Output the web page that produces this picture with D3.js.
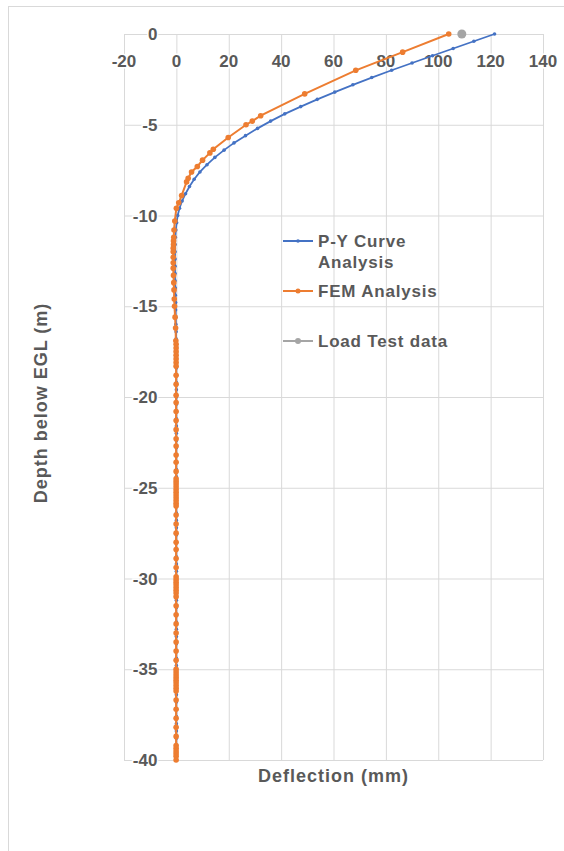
<!DOCTYPE html>
<html>
<head>
<meta charset="utf-8">
<script src="https://cdn.jsdelivr.net/npm/d3@7"></script>
<style>
  body { margin: 0; background: #fff; }
  svg text { font-family: "Liberation Sans", Arial, sans-serif; fill: #595959; }
</style>
</head>
<body>
<svg id="chart" width="564" height="851"></svg>
<script>
// P-Y curve analysis (depth in m, deflection in mm)
const pyDepth = [0, -0.4, -0.8, -1.2, -1.6, -2, -2.4, -2.8, -3.2, -3.6, -4, -4.4, -4.8, -5.2, -5.6, -6, -6.4, -6.8, -7.2, -7.6,
  -8, -8.4, -8.8, -9.2, -9.6, -10, -10.4, -10.8, -11.2, -11.6, -12, -12.4, -12.8, -13.2, -13.6, -14, -14.4, -14.8, -15.2, -15.6,
  -16, -16.4, -16.8, -17.2, -17.6, -18, -18.4, -18.8, -19.2, -19.6, -20, -20.4, -20.8, -21.2, -21.6, -22, -22.4, -22.8, -23.2, -23.6,
  -24, -24.4, -24.8, -25.2, -25.6, -26, -26.4, -26.8, -27.2, -27.6, -28, -28.4, -28.8, -29.2, -29.6, -30, -30.4, -30.8, -31.2, -31.6,
  -32, -32.4, -32.8, -33.2, -33.6, -34, -34.4, -34.8, -35.2, -35.6, -36, -36.4, -36.8, -37.2, -37.6, -38, -38.4, -38.8, -39.2, -39.6, -40];
const pyDefl = [121.5, 113.6, 105.7, 97.8, 90.0, 82.2, 74.6, 67.4, 60.5, 53.8, 47.5, 41.4, 36.0, 31.0, 26.4, 22.0, 18.2, 14.7, 11.7, 9.0,
  6.8, 5.0, 3.5, 2.2, 1.2, 0.5, 0.1, -0.2, -0.4, -0.5, -0.5, -0.5, -0.5, -0.5, -0.5, -0.4, -0.4, -0.3, -0.3, -0.2,
  -0.2, -0.1, -0.1, 0, 0, 0, 0, 0, 0, 0, 0, 0, 0, 0, 0, 0, 0, 0, 0, 0,
  0, 0, 0, 0, 0, 0, 0, 0, 0, 0, 0, 0, 0, 0, 0, 0, 0, 0, 0, 0,
  0, 0, 0, 0, 0, 0, 0, 0, 0, 0, 0, 0, 0, 0, 0, 0, 0, 0, 0, 0, 0];

// FEM analysis (node depths)
const femDepth = [0, -1, -2, -3.3, -4.5, -4.8, -5, -5.7, -6.35, -6.55, -6.95, -7.3, -7.6, -7.95, -8.15, -8.9, -9.3, -9.6,
  -10.3, -10.8, -11.2, -11.4, -11.6, -11.8, -12, -12.3, -12.6, -12.9, -13.3, -13.7, -14.1, -14.6, -15, -15.6, -16.2, -16.9,
  -17.1, -17.3, -17.5, -17.7, -17.9, -18.1, -18.3, -18.8, -19.3, -19.9, -20.3, -20.8, -21.3, -21.8, -22.3, -22.7, -23.2, -23.6, -24.1,
  -24.5, -24.65, -24.8, -24.95, -25.1, -25.25, -25.4, -25.55, -25.7, -25.85, -26, -26.5, -27, -27.5, -28, -28.4, -28.9, -29.4,
  -29.9, -30.05, -30.2, -30.35, -30.5, -30.65, -30.8, -31, -31.5, -32, -32.5, -33, -33.5, -34, -34.5,
  -35, -35.15, -35.3, -35.45, -35.6, -35.75, -35.9, -36.05, -36.2, -36.7, -37.2, -37.7, -38.2, -38.7,
  -39.2, -39.35, -39.5, -39.65, -39.8, -40];
const femDefl = [104.0, 86.4, 68.5, 49.0, 32.2, 29.0, 26.6, 19.8, 14.1, 12.8, 10.0, 8.0, 5.8, 4.5, 3.9, 2.0, 0.9, 0.0,
  -0.6, -0.9, -1.0, -1.1, -1.1, -1.2, -1.2, -1.2, -1.2, -1.2, -1.1, -1.0, -0.9, -0.8, -0.7, -0.5, -0.3, -0.2,
  -0.1, -0.1, -0.1, -0.1, -0.1, -0.1, -0.1, -0.1, -0.1, -0.1, -0.1, -0.1, -0.1, -0.1, -0.1, -0.1, -0.1, -0.1, -0.1,
  -0.1, -0.1, -0.1, -0.1, -0.1, -0.1, -0.1, -0.1, -0.1, -0.1, -0.1, -0.1, -0.1, -0.1, -0.1, -0.1, -0.1, -0.1,
  -0.1, -0.1, -0.1, -0.1, -0.1, -0.1, -0.1, -0.1, -0.1, -0.1, -0.1, -0.1, -0.1, -0.1, -0.1,
  -0.1, -0.1, -0.1, -0.1, -0.1, -0.1, -0.1, -0.1, -0.1, -0.1, -0.1, -0.1, -0.1, -0.1,
  -0.1, -0.1, -0.1, -0.1, -0.1, -0.1];

// Load test
const testDepth = [0];
const testDefl = [109];

const xTicks = [-20, 0, 20, 40, 60, 80, 100, 120, 140];
const yTicks = [0, -5, -10, -15, -20, -25, -30, -35, -40];

const svg = d3.select('#chart');

// chart border
svg.append('rect').attr('x', 8.5).attr('y', 6.5).attr('width', 600).attr('height', 900)
  .attr('fill', 'none').attr('stroke', '#d9d9d9');

const x = d3.scaleLinear().domain([-20, 140]).range([124, 543]);
const y = d3.scaleLinear().domain([-40, 0]).range([760, 34]);

// gridlines
svg.append('g').selectAll('line').data(xTicks).enter().append('line')
  .attr('x1', d => x(d) + 0.5).attr('x2', d => x(d) + 0.5)
  .attr('y1', y(0)).attr('y2', y(-40))
  .attr('stroke', '#d9d9d9').attr('stroke-width', 1);
svg.append('g').selectAll('line').data(yTicks).enter().append('line')
  .attr('x1', x(-20)).attr('x2', x(140))
  .attr('y1', d => y(d) + 0.5).attr('y2', d => y(d) + 0.5)
  .attr('stroke', '#d9d9d9').attr('stroke-width', 1);

// tick labels
svg.append('g').selectAll('text').data(xTicks).enter().append('text')
  .attr('x', d => x(d)).attr('y', 67)
  .attr('text-anchor', 'middle').attr('font-size', 17).attr('font-weight', 'bold')
  .attr('stroke', '#fff').attr('stroke-width', 3).attr('paint-order', 'stroke')
  .text(d => d);
svg.append('g').selectAll('text').data(yTicks).enter().append('text')
  .attr('x', x(0) - 19).attr('y', d => y(d) + 6)
  .attr('text-anchor', 'end').attr('font-size', 17).attr('font-weight', 'bold')
  .attr('stroke', '#fff').attr('stroke-width', 3).attr('paint-order', 'stroke')
  .text(d => d);

// axis titles
svg.append('text').attr('x', (x(-20) + x(140)) / 2).attr('y', 782)
  .attr('text-anchor', 'middle').attr('font-size', 18).attr('font-weight', 'bold')
  .attr('letter-spacing', 1).text('Deflection (mm)');
svg.append('text').attr('transform', `translate(47,${(y(0) + y(-40)) / 2 + 6}) rotate(-90)`)
  .attr('text-anchor', 'middle').attr('font-size', 18).attr('font-weight', 'bold')
  .attr('letter-spacing', 1).text('Depth below EGL (m)');

const line = d3.line().x(d => x(d[0])).y(d => y(d[1]));

const py = pyDefl.map((v, i) => [v, pyDepth[i]]);
const fem = femDefl.map((v, i) => [v, femDepth[i]]);
const test = testDefl.map((v, i) => [v, testDepth[i]]);

svg.append('path').datum(py).attr('d', line)
  .attr('fill', 'none').attr('stroke', '#4472c4').attr('stroke-width', 1.75);
svg.append('g').selectAll('circle').data(py).enter().append('circle')
  .attr('cx', d => x(d[0])).attr('cy', d => y(d[1])).attr('r', 1.8).attr('fill', '#4472c4');

svg.append('path').datum(fem).attr('d', line)
  .attr('fill', 'none').attr('stroke', '#ed7d31').attr('stroke-width', 2);
svg.append('g').selectAll('circle').data(fem).enter().append('circle')
  .attr('cx', d => x(d[0])).attr('cy', d => y(d[1])).attr('r', 2.8).attr('fill', '#ed7d31');

svg.append('g').selectAll('circle').data(test).enter().append('circle')
  .attr('cx', d => x(d[0])).attr('cy', d => y(d[1])).attr('r', 4.5).attr('fill', '#a5a5a5');

// legend
const legend = [
  { label: ['P-Y Curve', 'Analysis'], color: '#4472c4', r: 1.8, y: 241 },
  { label: ['FEM Analysis'], color: '#ed7d31', r: 2.5, y: 291 },
  { label: ['Load Test data'], color: '#a5a5a5', r: 3, y: 341 }
];
const lg = svg.append('g').selectAll('g').data(legend).enter().append('g');
lg.append('line').attr('x1', 283).attr('x2', 313).attr('y1', d => d.y).attr('y2', d => d.y)
  .attr('stroke', d => d.color).attr('stroke-width', 2);
lg.append('circle').attr('cx', 298).attr('cy', d => d.y).attr('r', d => d.r).attr('fill', d => d.color);
lg.append('text').attr('x', 318).attr('y', d => d.y + 6).attr('font-size', 17).attr('font-weight', 'bold')
  .attr('letter-spacing', 0.8)
  .selectAll('tspan').data(d => d.label).enter().append('tspan')
  .attr('x', 318).attr('dy', (d, i) => i === 0 ? 0 : 21).text(d => d);
</script>
</body>
</html>
